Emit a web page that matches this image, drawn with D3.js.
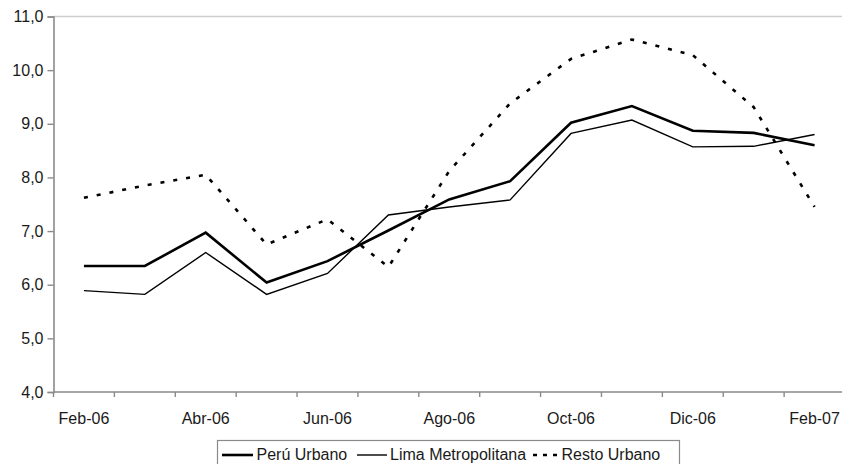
<!DOCTYPE html>
<html>
<head>
<meta charset="utf-8">
<script src="https://cdn.jsdelivr.net/npm/d3@7"></script>
<style>
  body { margin: 0; background: #fff; }
  text { font-family: "Liberation Sans", Arial, sans-serif; fill: #1a1a1a; }
</style>
</head>
<body>
<div id="chart"></div>
<script>
// tasas mensuales
var months = ["Feb-06","Mar-06","Abr-06","May-06","Jun-06","Jul-06","Ago-06","Sep-06","Oct-06","Nov-06","Dic-06","Ene-07","Feb-07"];
var peruUrbano = [6.35, 6.35, 6.97, 6.04, 6.44, 7.01, 7.59, 7.93, 9.02, 9.33, 8.87, 8.83, 8.60];
var limaMetro  = [5.89, 5.82, 6.60, 5.82, 6.21, 7.30, 7.45, 7.58, 8.82, 9.07, 8.57, 8.58, 8.80];
var restoUrbano = [7.62, 7.85, 8.05, 6.75, 7.22, 6.33, 8.12, 9.38, 10.21, 10.57, 10.28, 9.31, 7.45];
var yTicks = [4, 5, 6, 7, 8, 9, 10, 11];
var seriesNames = ["Perú Urbano", "Lima Metropolitana", "Resto Urbano"];

var W = 842, H = 464;
var svg = d3.select("#chart").append("svg").attr("width", W).attr("height", H);

var x = d3.scaleBand().domain(months).range([53.5, 845]).padding(0);
var y = d3.scaleLinear().domain([4, 11]).range([392, 16.5]);
var cx = function(i){ return x(months[i]) + x.bandwidth() / 2; };

// borde superior del area de trazado
svg.append("line")
  .attr("x1", 53.5).attr("x2", W)
  .attr("y1", y(11)).attr("y2", y(11))
  .attr("stroke", "#cfcfcf").attr("stroke-width", 1.6);

// eje y
var yAxis = svg.append("g")
  .attr("transform", "translate(53.5,0)")
  .call(d3.axisLeft(y).tickValues(yTicks).tickSize(6).tickPadding(4)
    .tickFormat(function(d){ return d3.format(".1f")(d).replace(".", ","); }));
yAxis.select(".domain").attr("stroke", "#8a8a8a").attr("stroke-width", 1.6);
yAxis.selectAll(".tick line").attr("stroke", "#8a8a8a").attr("stroke-width", 1.4);
yAxis.selectAll(".tick text").attr("font-size", 16).attr("fill", "#1a1a1a")
  .style("font-family", "'Liberation Sans', Arial, sans-serif");

// eje x: linea, marcas en los limites y etiquetas cada dos meses
var xg = svg.append("g");
xg.append("line")
  .attr("x1", 53.5).attr("x2", W)
  .attr("y1", y(4)).attr("y2", y(4))
  .attr("stroke", "#8a8a8a").attr("stroke-width", 1.6);
xg.selectAll("line.tk").data(months).enter().append("line")
  .attr("class", "tk")
  .attr("x1", function(d){ return x(d); }).attr("x2", function(d){ return x(d); })
  .attr("y1", y(4)).attr("y2", y(4) + 5)
  .attr("stroke", "#8a8a8a").attr("stroke-width", 1.4);
xg.selectAll("text").data(months.filter(function(d, i){ return i % 2 === 0; })).enter().append("text")
  .attr("x", function(d){ return x(d) + x.bandwidth() / 2; })
  .attr("y", 424)
  .attr("text-anchor", "middle")
  .attr("font-size", 16)
  .text(function(d){ return d; });

var line = d3.line().x(function(d, i){ return cx(i); }).y(function(d){ return y(d); });

svg.append("path").datum(restoUrbano)
  .attr("d", line).attr("fill", "none")
  .attr("stroke", "#000").attr("stroke-width", 2.6)
  .attr("stroke-dasharray", "4,9");
svg.append("path").datum(limaMetro)
  .attr("d", line).attr("fill", "none")
  .attr("stroke", "#000").attr("stroke-width", 1.4);
svg.append("path").datum(peruUrbano)
  .attr("d", line).attr("fill", "none")
  .attr("stroke", "#000").attr("stroke-width", 2.6);

// leyenda
var lg = svg.append("g");
lg.append("rect")
  .attr("x", 217.5).attr("y", 440.5).attr("width", 462).attr("height", 40)
  .attr("fill", "#fff").attr("stroke", "#8a8a8a").attr("stroke-width", 1.2);
var items = [
  { name: seriesNames[0], x0: 222, x1: 253, tx: 256.5, w: 2.6, dash: null },
  { name: seriesNames[1], x0: 357, x1: 387, tx: 390, w: 1.4, dash: null },
  { name: seriesNames[2], x0: 533, x1: 559, tx: 561.5, w: 2.4, dash: "4,6" }
];
items.forEach(function(it){
  lg.append("line")
    .attr("x1", it.x0).attr("x2", it.x1).attr("y1", 455).attr("y2", 455)
    .attr("stroke", "#000").attr("stroke-width", it.w)
    .attr("stroke-dasharray", it.dash);
  lg.append("text")
    .attr("x", it.tx).attr("y", 460)
    .attr("font-size", 16)
    .text(it.name);
});
</script>
</body>
</html>
